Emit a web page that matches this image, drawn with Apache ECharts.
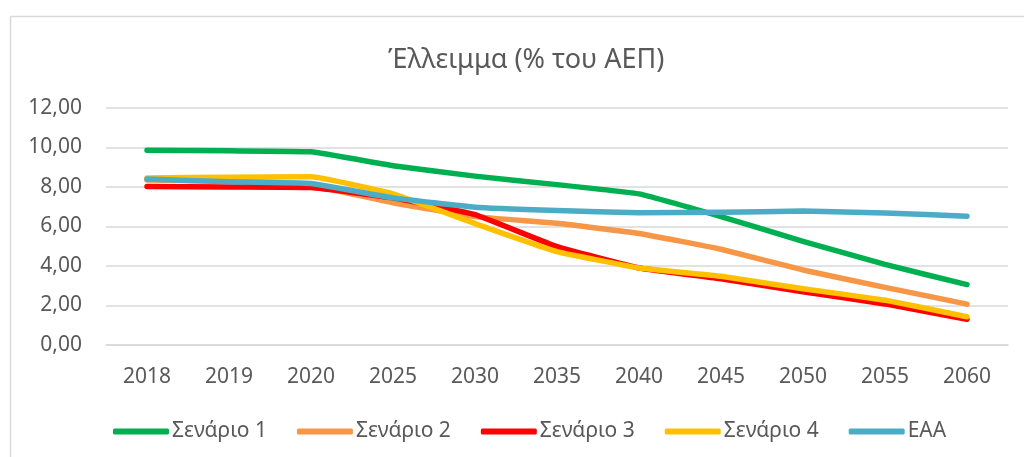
<!DOCTYPE html>
<html><head><meta charset="utf-8">
<script src="https://cdn.jsdelivr.net/npm/echarts@6/dist/echarts.min.js"></script>
<style>html,body{margin:0;padding:0;background:#fff}#c{width:1024px;height:457px}</style>
</head><body><div id="c"></div>
<script>
const categories = ['2018','2019','2020','2025','2030','2035','2040','2045','2050','2055','2060'];
const scenario1 = [9.86, 9.83, 9.78, 9.08, 8.55, 8.12, 7.65, 6.5, 5.25, 4.08, 3.06];
const scenario2 = [8.35, 8.3, 8.08, 7.2, 6.5, 6.16, 5.65, 4.85, 3.8, 2.92, 2.07];
const scenario3 = [8.02, 8.0, 7.97, 7.45, 6.6, 4.98, 3.9, 3.35, 2.7, 2.08, 1.3];
const scenario4 = [8.45, 8.5, 8.52, 7.65, 6.15, 4.73, 3.9, 3.48, 2.85, 2.27, 1.43];
const eaa = [8.4, 8.27, 8.18, 7.45, 6.98, 6.81, 6.69, 6.72, 6.78, 6.68, 6.52];
const seriesNames = ['Σενάριο 1','Σενάριο 2','Σενάριο 3','Σενάριο 4','ΕΑΑ'];
const seriesColors = ['#00B050','#F79646','#FF0000','#FFC000','#4BACC6'];
const yTicks = [0, 2, 4, 6, 8, 10, 12];

const font = '"Noto Sans", "Open Sans", sans-serif';
const chart = echarts.init(document.getElementById('c'));
const datasets = [scenario1, scenario2, scenario3, scenario4, eaa];
chart.setOption({
  animation: false,
  backgroundColor: '#fff',
  graphic: [{type:'rect', shape:{x:10.5,y:16.5,width:1100,height:600}, style:{fill:'none',stroke:'#D9D9D9',lineWidth:1.5}, silent:true}],
  title: {text: 'Έλλειμμα (% του ΑΕΠ)', left: 383, top: 42,
    textStyle: {fontFamily: font, fontSize: 27, fontWeight: 'normal', color: '#595959'}},
  grid: {left: 106, right: 16, top: 108, bottom: 112},
  legend: {data: seriesNames, bottom: 10, left: 108, icon: 'roundRect', itemWidth: 56, itemHeight: 6,
    itemGap: 30, textStyle: {fontFamily: font, fontSize: 21, color: '#595959', padding:[0,0,0,-2]}},
  xAxis: {type: 'category', data: categories, boundaryGap: true,
    axisLine: {show: true, lineStyle: {color: '#D9D9D9', width: 1.5}},
    axisTick: {show: false},
    axisLabel: {fontFamily: font, fontSize: 21, color: '#595959', margin: 22}},
  yAxis: {type: 'value', min: yTicks[0], max: yTicks[yTicks.length-1], interval: 2,
    axisLine: {show: false}, axisTick: {show: false},
    splitLine: {lineStyle: {color: '#D9D9D9', width: 1.5}},
    axisLabel: {fontFamily: font, fontSize: 21, color: '#595959', margin: 24,
      formatter: v => v.toFixed(2).replace('.', ',')}},
  series: datasets.map((d, i) => ({
    name: seriesNames[i], type: 'line', data: d, showSymbol: false, symbol: 'none', smooth: 0.1,
    color: seriesColors[i],
    lineStyle: {width: 5.5, color: seriesColors[i], cap: 'round', join: 'round'}
  }))
});
</script></body></html>
